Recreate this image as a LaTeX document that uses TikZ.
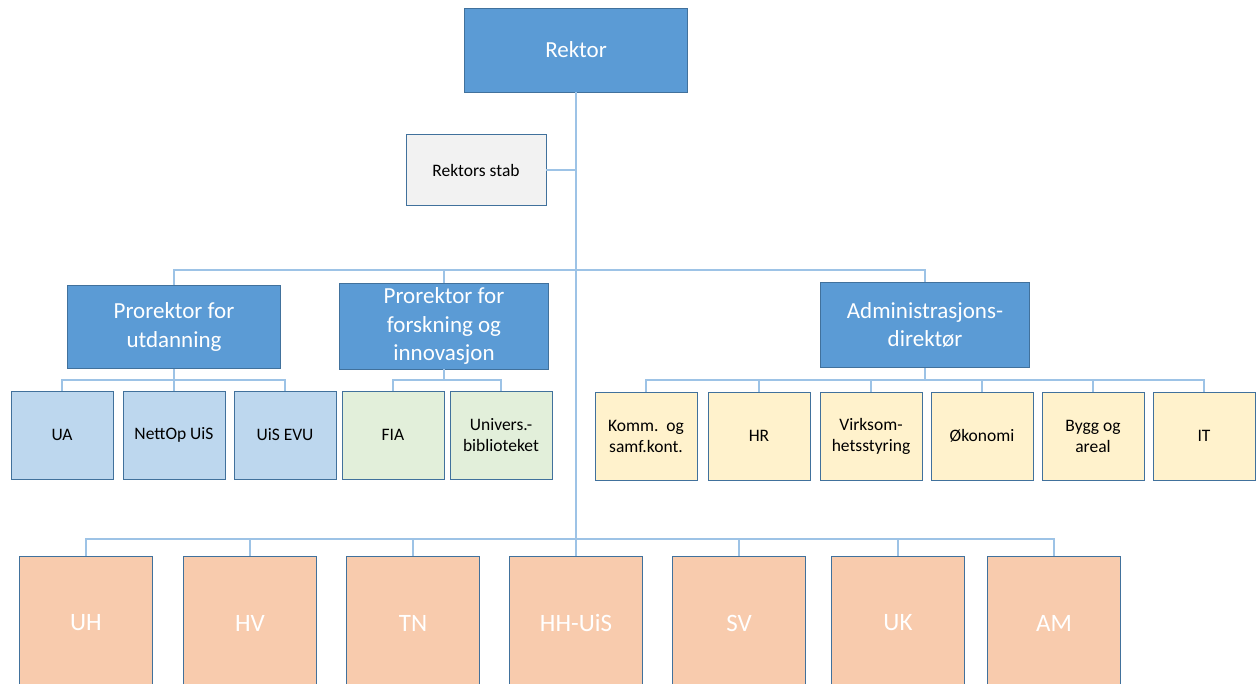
\documentclass[tikz,border=0pt]{standalone}
\usepackage{fontspec}
\setmainfont{Carlito}
\usepackage{tikz}
\definecolor{hodeblaa}{HTML}{5B9BD5}
\definecolor{kant}{HTML}{41719C}
\definecolor{lysblaa}{HTML}{BDD7EE}
\definecolor{lysgronn}{HTML}{E2EFDA}
\definecolor{lysgul}{HTML}{FFF2CC}
\definecolor{fersken}{HTML}{F8CBAD}
\definecolor{lysgraa}{HTML}{F2F2F2}
\definecolor{strek}{HTML}{9DC3E6}
\tikzstyle{leder} = [rectangle, draw=kant, line width=0.8pt, fill=hodeblaa, text=white, font=\fontsize{23}{28.5}\selectfont, align=center]
\tikzstyle{enhet} = [rectangle, draw=kant, line width=0.8pt, minimum width=102pt, minimum height=88pt, font=\fontsize{17.5}{21}\selectfont, align=center]
\tikzstyle{fakultet} = [rectangle, draw=kant, line width=0.8pt, fill=fersken, text=white, minimum width=133pt, minimum height=134pt, font=\fontsize{25}{28}\selectfont]
\tikzstyle{link} = [draw=strek, line width=1.5pt]

\begin{document}
\begin{tikzpicture}[x=1pt, y=-1pt]
	\useasboundingbox (0,0) rectangle (1256,683);
	
	\node[leder, minimum width=223pt, minimum height=84pt] (rektor) at (576,50) {Rektor};
	\node[rectangle, draw=kant, line width=0.8pt, fill=lysgraa, minimum width=140pt, minimum height=71pt, font=\fontsize{17.5}{21}\selectfont] (stab) at (476,170) {Rektors stab};
	
	\node[leder, minimum width=213pt, minimum height=83pt] (pu) at (174,327) {Prorektor for\\utdanning};
	\node[leder, minimum width=209pt, minimum height=86pt] (pf) at (444,326) {Prorektor for\\forskning og\\innovasjon};
	\node[leder, minimum width=209pt, minimum height=85pt] (adm) at (925,325) {Administrasjons-\\direktør};
	
	\node[enhet, fill=lysblaa] (ua) at (62,435) {UA};
	\node[enhet, fill=lysblaa] (nettop) at (174,435) {NettOp UiS};
	\node[enhet, fill=lysblaa] (evu) at (285,435) {UiS EVU};
	\node[enhet, fill=lysgronn] (fia) at (393,435) {FIA};
	\node[enhet, fill=lysgronn] (ub) at (501,435) {Univers.-\\biblioteket};
	
	\node[enhet, fill=lysgul] (komm) at (646,436) {Komm.~~og\\samf.kont.};
	\node[enhet, fill=lysgul] (hr) at (759,436) {HR};
	\node[enhet, fill=lysgul] (virk) at (871,436) {Virksom-\\hetsstyring};
	\node[enhet, fill=lysgul] (oko) at (982,436) {Økonomi};
	\node[enhet, fill=lysgul] (bygg) at (1093,436) {Bygg og\\areal};
	\node[enhet, fill=lysgul] (it) at (1204,436) {IT};
	
	\node[fakultet] (uh) at (86,623) {UH};
	\node[fakultet] (hv) at (250,623) {HV};
	\node[fakultet] (tn) at (413,623) {TN};
	\node[fakultet] (hhuis) at (576,623) {HH-UiS};
	\node[fakultet] (sv) at (739,623) {SV};
	\node[fakultet] (uk) at (898,623) {UK};
	\node[fakultet] (am) at (1054,623) {AM};
	
	\coordinate (b1) at (576,270);
	\coordinate (b2) at (174,380);
	\coordinate (b3) at (444,380);
	\coordinate (b4) at (925,380);
	\coordinate (b5) at (576,539);
	
	% rektor og stab
	\draw[link] (rektor.south) -- (hhuis.north);
	\draw[link] (stab.east) -- (stab.east -| rektor.south);
	% prorektorer og direktør
	\draw[link] (pu.north) |- (b1) -| (adm.north);
	\draw[link] (pf.north) -- (pf.north |- b1);
	% enheter
	\draw[link] (pu.south) -- (b2);
	\draw[link] (ua.north) |- (b2) -| (evu.north);
	\draw[link] (nettop.north) -- (b2);
	\draw[link] (pf.south) -- (b3);
	\draw[link] (fia.north) |- (b3) -| (ub.north);
	\draw[link] (adm.south) -- (b4);
	\draw[link] (komm.north) |- (b4) -| (it.north);
	\foreach \n in {hr,virk,oko,bygg}
		\draw[link] (\n.north) -- (\n.north |- b4);
	% fakulteter
	\draw[link] (uh.north) |- (b5) -| (am.north);
	\foreach \n in {hv,tn,sv,uk}
		\draw[link] (\n.north) -- (\n.north |- b5);
\end{tikzpicture}
\end{document}
